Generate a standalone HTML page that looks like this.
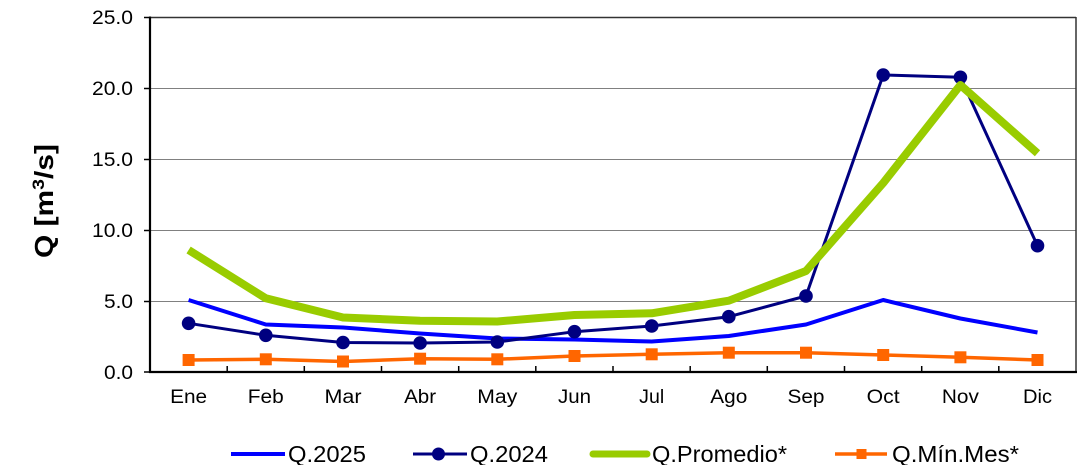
<!DOCTYPE html>
<html><head><meta charset="utf-8"><style>
html,body{margin:0;padding:0;background:#fff;}
svg{display:block;font-family:"Liberation Sans",Arial,sans-serif;}
</style></head><body>
<svg width="1081" height="465" viewBox="0 0 1081 465" xmlns="http://www.w3.org/2000/svg">
<rect width="1081" height="465" fill="#fff"/>
<!-- gridlines -->
<g stroke="#808080" stroke-width="1">
<line x1="150" y1="88.5" x2="1076" y2="88.5"/>
<line x1="150" y1="159.5" x2="1076" y2="159.5"/>
<line x1="150" y1="230.5" x2="1076" y2="230.5"/>
<line x1="150" y1="301.5" x2="1076" y2="301.5"/>
</g>
<!-- frame -->
<line x1="150" y1="17.5" x2="1076" y2="17.5" stroke="#333" stroke-width="1.5"/>
<line x1="1076" y1="17" x2="1076" y2="372" stroke="#333" stroke-width="1.5"/>
<line x1="150" y1="16.5" x2="150" y2="373" stroke="#000" stroke-width="2.2"/>
<line x1="149" y1="372" x2="1077" y2="372" stroke="#000" stroke-width="2.2"/>
<!-- y ticks -->
<g stroke="#000" stroke-width="1.5">
<line x1="144" y1="17.5" x2="150" y2="17.5"/>
<line x1="144" y1="88.5" x2="150" y2="88.5"/>
<line x1="144" y1="159.5" x2="150" y2="159.5"/>
<line x1="144" y1="230.5" x2="150" y2="230.5"/>
<line x1="144" y1="301.5" x2="150" y2="301.5"/>
<line x1="144" y1="372" x2="150" y2="372"/>
</g>
<!-- x ticks (inward) -->
<g stroke="#000" stroke-width="1.5">
<line x1="227.2" y1="366" x2="227.2" y2="372"/>
<line x1="304.3" y1="366" x2="304.3" y2="372"/>
<line x1="381.5" y1="366" x2="381.5" y2="372"/>
<line x1="458.7" y1="366" x2="458.7" y2="372"/>
<line x1="535.8" y1="366" x2="535.8" y2="372"/>
<line x1="613" y1="366" x2="613" y2="372"/>
<line x1="690.2" y1="366" x2="690.2" y2="372"/>
<line x1="767.3" y1="366" x2="767.3" y2="372"/>
<line x1="844.5" y1="366" x2="844.5" y2="372"/>
<line x1="921.7" y1="366" x2="921.7" y2="372"/>
<line x1="998.8" y1="366" x2="998.8" y2="372"/>
</g>
<!-- y tick labels -->
<g font-size="19" fill="#000" text-anchor="end">
<text x="133" y="24" textLength="41" lengthAdjust="spacingAndGlyphs">25.0</text>
<text x="133" y="95" textLength="41" lengthAdjust="spacingAndGlyphs">20.0</text>
<text x="133" y="166" textLength="41" lengthAdjust="spacingAndGlyphs">15.0</text>
<text x="133" y="237" textLength="41" lengthAdjust="spacingAndGlyphs">10.0</text>
<text x="133" y="308" textLength="29" lengthAdjust="spacingAndGlyphs">5.0</text>
<text x="133" y="379" textLength="29" lengthAdjust="spacingAndGlyphs">0.0</text>
</g>
<!-- x labels -->
<g font-size="19" fill="#000" text-anchor="middle">
<text x="188.6" y="403" textLength="37" lengthAdjust="spacingAndGlyphs">Ene</text>
<text x="265.8" y="403" textLength="36" lengthAdjust="spacingAndGlyphs">Feb</text>
<text x="343" y="403" textLength="37" lengthAdjust="spacingAndGlyphs">Mar</text>
<text x="420.1" y="403" textLength="32" lengthAdjust="spacingAndGlyphs">Abr</text>
<text x="497.3" y="403" textLength="40" lengthAdjust="spacingAndGlyphs">May</text>
<text x="574.5" y="403" textLength="33" lengthAdjust="spacingAndGlyphs">Jun</text>
<text x="651.7" y="403" textLength="25" lengthAdjust="spacingAndGlyphs">Jul</text>
<text x="728.8" y="403" textLength="37" lengthAdjust="spacingAndGlyphs">Ago</text>
<text x="806" y="403" textLength="37" lengthAdjust="spacingAndGlyphs">Sep</text>
<text x="883.2" y="403" textLength="33" lengthAdjust="spacingAndGlyphs">Oct</text>
<text x="960.4" y="403" textLength="37" lengthAdjust="spacingAndGlyphs">Nov</text>
<text x="1037.5" y="403" textLength="29" lengthAdjust="spacingAndGlyphs">Dic</text>
</g>
<!-- y title -->
<text transform="translate(53,201) rotate(-90)" font-size="26" font-weight="bold" text-anchor="middle" textLength="114" lengthAdjust="spacingAndGlyphs">Q [m<tspan font-size="17" dy="-9">3</tspan><tspan dy="9">/s]</tspan></text>

<!-- Q.2025 -->
<polyline fill="none" stroke="#0000FF" stroke-width="4" stroke-linejoin="round" points="188.6,300 265.8,324.5 343,327.5 420.1,333.5 497.3,338.5 574.5,339.5 651.7,341.5 728.8,336 806,324.5 883.2,300 960.4,318.5 1037.5,332.5"/>
<!-- Q.2024 -->
<polyline fill="none" stroke="#000080" stroke-width="3" stroke-linejoin="round" points="188.6,323.3 265.8,335.3 343,342.5 420.1,343 497.3,342 574.5,331.7 651.7,326 728.8,316.7 806,296 883.2,75 960.4,77.3 1037.5,245.7"/>
<g fill="#000080">
<circle cx="188.6" cy="323.3" r="6.8"/>
<circle cx="265.8" cy="335.3" r="6.8"/>
<circle cx="343" cy="342.5" r="6.8"/>
<circle cx="420.1" cy="343" r="6.8"/>
<circle cx="497.3" cy="342" r="6.8"/>
<circle cx="574.5" cy="331.7" r="6.8"/>
<circle cx="651.7" cy="326" r="6.8"/>
<circle cx="728.8" cy="316.7" r="6.8"/>
<circle cx="806" cy="296" r="6.8"/>
<circle cx="883.2" cy="75" r="6.8"/>
<circle cx="960.4" cy="77.3" r="6.8"/>
<circle cx="1037.5" cy="245.7" r="6.8"/>
</g>
<!-- Q.Promedio -->
<polyline fill="none" stroke="#99CC00" stroke-width="8" stroke-linejoin="round" points="188.6,250 265.8,298.3 343,317.5 420.1,320.7 497.3,321.5 574.5,315 651.7,313.3 728.8,300.7 806,271 883.2,183 960.4,85 1037.5,153.3"/>
<!-- Q.Min -->
<polyline fill="none" stroke="#FF6600" stroke-width="3.5" stroke-linejoin="round" points="188.6,360 265.8,359.3 343,361.5 420.1,358.7 497.3,359.3 574.5,356 651.7,354.3 728.8,352.7 806,352.7 883.2,355 960.4,357.3 1037.5,360"/>
<g fill="#FF6600">
<rect x="182.6" y="354" width="12" height="12"/>
<rect x="259.8" y="353.3" width="12" height="12"/>
<rect x="337" y="355.5" width="12" height="12"/>
<rect x="414.1" y="352.7" width="12" height="12"/>
<rect x="491.3" y="353.3" width="12" height="12"/>
<rect x="568.5" y="350" width="12" height="12"/>
<rect x="645.7" y="348.3" width="12" height="12"/>
<rect x="722.8" y="346.7" width="12" height="12"/>
<rect x="800" y="346.7" width="12" height="12"/>
<rect x="877.2" y="349" width="12" height="12"/>
<rect x="954.4" y="351.3" width="12" height="12"/>
<rect x="1031.5" y="354" width="12" height="12"/>
</g>

<!-- legend -->
<line x1="231" y1="454" x2="285" y2="454" stroke="#0000FF" stroke-width="4"/>
<line x1="413" y1="454" x2="467" y2="454" stroke="#000080" stroke-width="3"/>
<circle cx="438.5" cy="454" r="6.5" fill="#000080"/>
<line x1="593" y1="454" x2="647" y2="454" stroke="#99CC00" stroke-width="7" stroke-linecap="round"/>
<line x1="835" y1="454" x2="887" y2="454" stroke="#FF6600" stroke-width="3.5"/>
<rect x="856.5" y="449" width="10" height="10" fill="#FF6600"/>
<g font-size="23" fill="#000">
<text x="288" y="462" textLength="78" lengthAdjust="spacingAndGlyphs">Q.2025</text>
<text x="470" y="462" textLength="78" lengthAdjust="spacingAndGlyphs">Q.2024</text>
<text x="652" y="462" textLength="135" lengthAdjust="spacingAndGlyphs">Q.Promedio*</text>
<text x="892" y="462" textLength="127" lengthAdjust="spacingAndGlyphs">Q.Mín.Mes*</text>
</g>
</svg>
</body></html>
